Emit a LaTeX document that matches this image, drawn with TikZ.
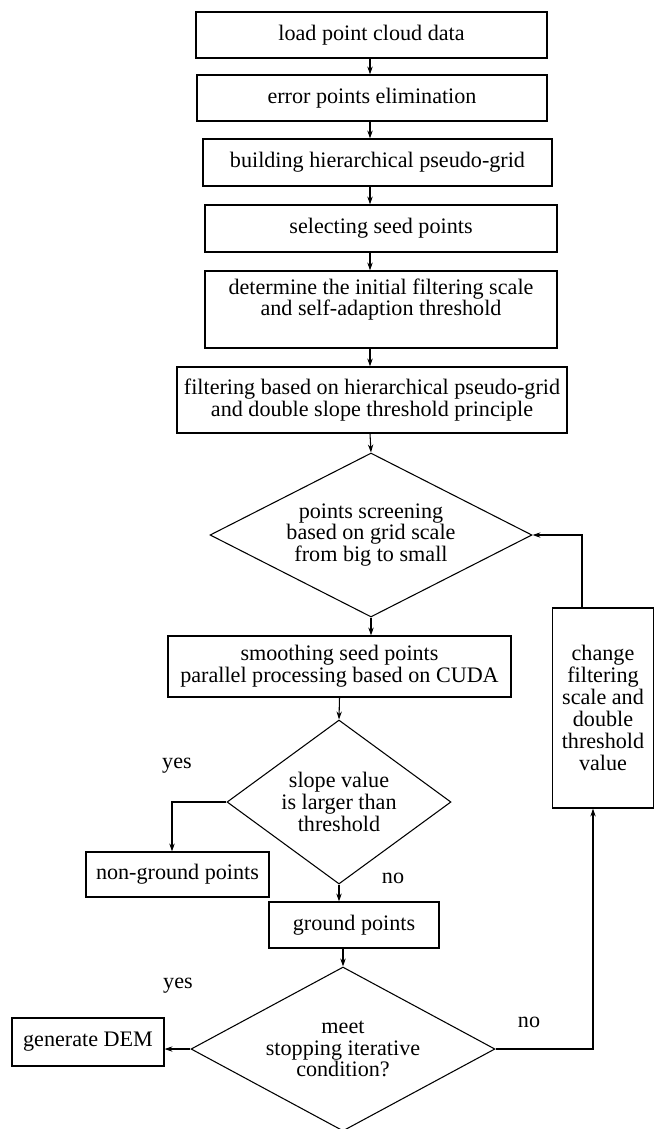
\documentclass[tikz,border=0pt]{standalone}
\usepackage{fontspec}
\setmainfont{Liberation Serif}
\usepackage{tikz}
\usetikzlibrary{positioning}
\usetikzlibrary{shapes.geometric,arrows.meta}

\newcommand{\pxu}{0.75pt}
\newcommand{\boxfont}{\fontsize{16.6}{16.4}\selectfont}

\tikzset{
	stepbox/.style={draw, line width=0.8pt, align=center, inner sep=0pt,
		font=\boxfont},
	decide/.style={draw, diamond, aspect=2, line width=0.8pt, align=center,
		inner sep=0pt, font=\boxfont},
	answer/.style={inner sep=0pt, font=\boxfont},
	flow/.style={line width=0.8pt, -{Stealth[length=6pt,width=4pt]}},
}

\begin{document}
\begin{tikzpicture}[x=\pxu, y=-\pxu]
	
	% ------------------------------------------------
	% Ensure the dimensions of graphic are appropriate
	\useasboundingbox (0,0) rectangle (654,1129);
	
	% ------------------------------------------------
	% Relevant coordinates
	\coordinate (Axis) at (370,0);
	\coordinate (YesDown) at (172,0);
	\coordinate (LoopUp) at (593,0);
	\coordinate (LoopBack) at (582,0);
	
	% ----------------
	% Main column
	\node[stepbox, minimum width=351*\pxu, minimum height=46*\pxu] (Load) at (371.5,35) {load point cloud data};
	\node[stepbox, minimum width=350*\pxu, minimum height=46*\pxu] (Error) at (372,98) {error points elimination};
	\node[stepbox, minimum width=349*\pxu, minimum height=47*\pxu] (Grid) at (377.5,162.5) {building hierarchical pseudo-grid};
	\node[stepbox, minimum width=352*\pxu, minimum height=47*\pxu] (Seed) at (381,228.5) {selecting seed points};
	\node[stepbox, minimum width=352*\pxu, minimum height=77*\pxu] (Scale) at (381,309.5) {determine the initial filtering scale\\and self-adaption threshold\\[2pt]};
	\node[stepbox, minimum width=390*\pxu, minimum height=66*\pxu] (Filter) at (372,400) {filtering based on hierarchical pseudo-grid\\and double slope threshold principle};
	
	\node[decide, aspect=1.96, minimum width=322*\pxu, minimum height=164*\pxu] (Screen) at (371,535) {points screening\\based on grid scale\\from big to small};
	
	\node[stepbox, minimum width=343*\pxu, minimum height=61*\pxu] (Smooth) at (339.5,666.5) {smoothing seed points\\parallel processing based on CUDA};
	
	\node[decide, aspect=1.37, minimum width=224*\pxu, minimum height=164*\pxu] (Slope) at (339,802) {slope value\\is larger than\\threshold};
	
	\node[stepbox, minimum width=183*\pxu, minimum height=45*\pxu] (NonGround) at (177.5,874.5) {non-ground points};
	\node[stepbox, minimum width=170*\pxu, minimum height=46*\pxu] (Ground) at (354,925) {ground points};
	
	\node[decide, aspect=1.85, minimum width=304*\pxu, minimum height=164*\pxu] (Stop) at (343,1049) {meet\\stopping iterative\\condition?};
	
	\node[stepbox, minimum width=152*\pxu, minimum height=48*\pxu] (DEM) at (88,1042) {generate DEM};
	
	\node[stepbox, minimum width=101*\pxu, minimum height=200*\pxu] (Change) at (603,708) {change\\filtering\\scale and\\double\\threshold\\value};
	
	% ----------------
	% Branch labels
	\node[answer] (YesSlope) at (177,766) {yes};
	\node[answer] (NoSlope) at (393,878) {no};
	\node[answer] (YesStop) at (178,986) {yes};
	\node[answer] (NoStop) at (529,1022) {no};
	
	%%%%%%%%%%%%%%%%%%%%%%%%%%%%%%%%%%%%%%%%%
	% Connectors
	\draw[flow] (Load.south -| Axis) -- (Error.north -| Axis);
	\draw[flow] (Error.south -| Axis) -- (Grid.north -| Axis);
	\draw[flow] (Grid.south -| Axis) -- (Seed.north -| Axis);
	\draw[flow] (Seed.south -| Axis) -- (Scale.north -| Axis);
	\draw[flow] (Scale.south -| Axis) -- (Filter.north -| Axis);
	\draw[flow] (Filter.south -| Axis) -- (Screen.north);
	\draw[flow] (Screen.south) -- (Smooth.north -| Screen.south);
	\draw[flow] (Smooth.south) -- (Slope.north);
	\draw[flow] (Slope.west) -| (NonGround.north -| YesDown);
	\draw[flow] (Slope.south) -- (Ground.north -| Slope.south);
	\draw[flow] (Ground.south -| Stop.north) -- (Stop.north);
	\draw[flow] (Stop.west) -- (Stop.west -| DEM.east);
	\draw[flow] (Stop.east) -| (Change.south -| LoopUp);
	\draw[flow] (Change.north -| LoopBack) |- (Screen.east);
	
\end{tikzpicture}
\end{document}
